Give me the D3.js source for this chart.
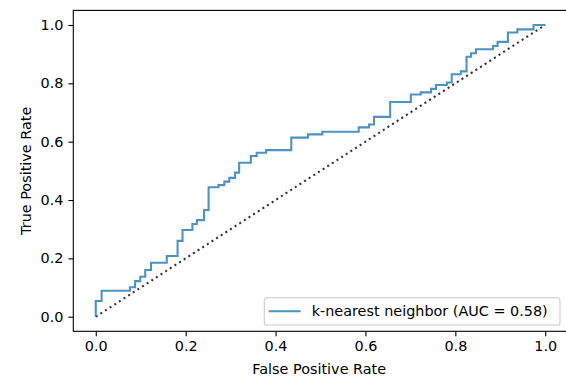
<!DOCTYPE html>
<html><head><meta charset="utf-8">
<script src="https://cdn.jsdelivr.net/npm/d3@7"></script>
<style>
html,body{margin:0;padding:0;background:#fff;}
svg text{font-family:"DejaVu Sans",sans-serif;}
</style></head>
<body><svg id="c" width="566" height="382"></svg>
<script>
const fpr = [0,0,0.013,0.076,0.0875,0.099,0.110,0.123,0.158,0.182,0.193,0.215,0.225,0.241,0.251,0.273,0.286,0.297,0.310,0.319,0.345,0.358,0.379,0.435,0.472,0.504,0.585,0.608,0.619,0.655,0.701,0.723,0.746,0.757,0.781,0.792,0.812,0.825,0.835,0.846,0.884,0.894,0.917,0.938,0.974,1.0];
const tpr = [0,0.054,0.089,0.101,0.122,0.137,0.160,0.185,0.208,0.260,0.297,0.318,0.331,0.366,0.444,0.451,0.463,0.476,0.494,0.528,0.551,0.562,0.571,0.614,0.625,0.634,0.649,0.659,0.685,0.736,0.762,0.769,0.781,0.794,0.803,0.831,0.841,0.891,0.903,0.917,0.928,0.942,0.974,0.985,1.0,1.0];
const chanceX = [0,1];
const chanceY = [0,1];
const xTicks = [0,0.2,0.4,0.6,0.8,1.0];
const yTicks = [0,0.2,0.4,0.6,0.8,1.0];
const seriesLabel = "k-nearest neighbor (AUC = 0.58)";
const xLabel = "False Positive Rate";
const yLabel = "True Positive Rate";

const svg = d3.select("#c");
const L = 73.3, R = 567.7, T = 10.4, B = 331.3;
const x = d3.scaleLinear().domain([-0.05,1.05]).range([L,R]);
const y = d3.scaleLinear().domain([-0.05,1.05]).range([B,T]);
const fs = 14.4;

// chance line
svg.append("path")
  .attr("d", d3.line().x(d=>x(d[0])).y(d=>y(d[1]))(chanceX.map((v,i)=>[v,chanceY[i]])))
  .attr("fill","none").attr("stroke","#000").attr("stroke-opacity",0.8)
  .attr("stroke-width",2.08).attr("stroke-dasharray","2.08,3.44");

// roc curve
svg.append("path")
  .attr("d", d3.line().curve(d3.curveStepAfter).x(d=>x(d[0])).y(d=>y(d[1]))(fpr.map((v,i)=>[v,tpr[i]])))
  .attr("fill","none").attr("stroke","#1f77b4").attr("stroke-opacity",0.8)
  .attr("stroke-width",2.08).attr("stroke-linejoin","miter").attr("stroke-linecap","butt");

// axes
const gx = svg.append("g").attr("transform",`translate(0,${B})`)
  .call(d3.axisBottom(x).tickValues(xTicks).tickFormat(d3.format(".1f")).tickSize(4.9).tickPadding(4.9));
const gy = svg.append("g").attr("transform",`translate(${L},0)`)
  .call(d3.axisLeft(y).tickValues(yTicks).tickFormat(d3.format(".1f")).tickSize(4.9).tickPadding(4.9));
[gx,gy].forEach(g=>{
  g.select(".domain").remove();
  g.selectAll(".tick line").attr("stroke","#000").attr("stroke-width",1.1);
  g.selectAll(".tick text").attr("font-size",fs).attr("fill","#000").attr("font-family","DejaVu Sans");
});

// frame
svg.append("rect").attr("x",L).attr("y",T).attr("width",R-L).attr("height",B-T)
  .attr("fill","none").attr("stroke","#000").attr("stroke-width",1.1);

// labels
svg.append("text").attr("x",319.2).attr("y",374.3).attr("text-anchor","middle")
  .attr("font-size",fs).text(xLabel);
svg.append("text").attr("transform",`translate(31,${(T+B)/2}) rotate(-90)`).attr("text-anchor","middle")
  .attr("font-size",fs).text(yLabel);

// legend
const lg = svg.append("g");
lg.append("rect").attr("x",264.3).attr("y",297.7).attr("width",295.7).attr("height",27.3)
  .attr("rx",2.8).attr("fill","#fff").attr("fill-opacity",0.8).attr("stroke","#cccccc").attr("stroke-width",1.1);
lg.append("line").attr("x1",268.7).attr("x2",300.7).attr("y1",311.3).attr("y2",311.3)
  .attr("stroke","#1f77b4").attr("stroke-opacity",0.8).attr("stroke-width",2.08);
lg.append("text").attr("x",311.7).attr("y",316.4).attr("font-size",fs).text(seriesLabel);
</script></body></html>
